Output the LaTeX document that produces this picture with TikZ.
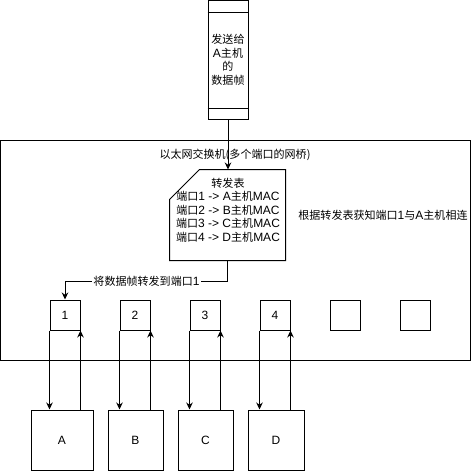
\documentclass[tikz,border=0pt]{standalone}
\usepackage{fontspec}
\setmainfont{Liberation Sans}
\newfontfamily\cjk{Noto Sans CJK SC}[Scale=0.92]
\newcommand\zh[1]{{\cjk #1}}
\usetikzlibrary{arrows.meta}
\begin{document}
\begin{tikzpicture}[x=1pt,y=-1pt,line width=1pt,
  font=\fontsize{12}{14}\selectfont,
  arr/.style={-{Stealth[length=7pt,width=6.5pt]}},
  boxn/.style={draw,inner sep=0pt,minimum width=#1},
  txt/.style={inner sep=0pt,align=center}]
\useasboundingbox (0,0) rectangle (472,471);
% switch
\node[draw,inner sep=0pt,minimum width=470pt,minimum height=220pt] (sw) at (235.5,250.5) {};
\node[txt] (title) at (235,155) {\zh{以太网交换机(多个端口的网桥)}};
% frame
\node[draw,inner sep=0pt,minimum width=40pt,minimum height=119pt] (fr) at (228,60) {};
\draw (fr.north west) ++(0,12) -- ++(40,0);
\draw (fr.south west) ++(0,-11.5) -- ++(40,0);
\node[txt,font=\fontsize{12}{13.5}\selectfont] (frt) at (fr.center) {\zh{发送给}\\A\zh{主机}\\\zh{的}\\\zh{数据帧}};
% table
\node[inner sep=0pt,minimum width=115pt,minimum height=90pt] (tbl) at (227.5,215) {};
\draw (tbl.north west) ++(0,30) -- ++(30,-30) -- (tbl.north east) -- (tbl.south east) -- (tbl.south west) -- cycle;
\node[txt,font=\fontsize{12}{13.6}\selectfont] (tblt) at (228,210)
 {\zh{转发表}\\\zh{端口}1 -> A\zh{主机}MAC\\\zh{端口}2 -> B\zh{主机}MAC\\\zh{端口}3 -> C\zh{主机}MAC\\\zh{端口}4 -> D\zh{主机}MAC};
\node[txt] (note) at (383,215) {\zh{根据转发表获知端口}1\zh{与}A\zh{主机相连}};
% ports
\foreach \i/\t in {1/1,2/2,3/3,4/4,5/{},6/{}}{
  \node[draw,inner sep=0pt,minimum width=30pt,minimum height=30pt] (p\i) at ({65+70*(\i-1)},315) {\t};
}
% hosts
\node[draw,inner sep=0pt,minimum width=62pt,minimum height=60pt] (A) at (62,440) {A};
\node[draw,inner sep=0pt,minimum width=55pt,minimum height=60pt] (B) at (135.5,440) {B};
\node[draw,inner sep=0pt,minimum width=55pt,minimum height=60pt] (C) at (205.5,440) {C};
\node[draw,inner sep=0pt,minimum width=56pt,minimum height=60pt] (D) at (276,440) {D};
% connectors
\draw[arr] (fr.south) -- (fr.south |- tbl.north);
\draw[arr] (tbl.south) -- ++(0,21) coordinate (k) -| (p1.north);
\node[txt,fill=white,inner xsep=1pt] (lbl) at (146.5,281) {\zh{将数据帧转发到端口}1};
\foreach \p/\h in {1/A,2/B,3/C,4/D}{
  \draw[arr] (p\p.south west) -- (p\p.south west |- \h.north);
  \draw[arr] (\h.north -| p\p.south east) -- (p\p.south east);
}
\end{tikzpicture}
\end{document}
